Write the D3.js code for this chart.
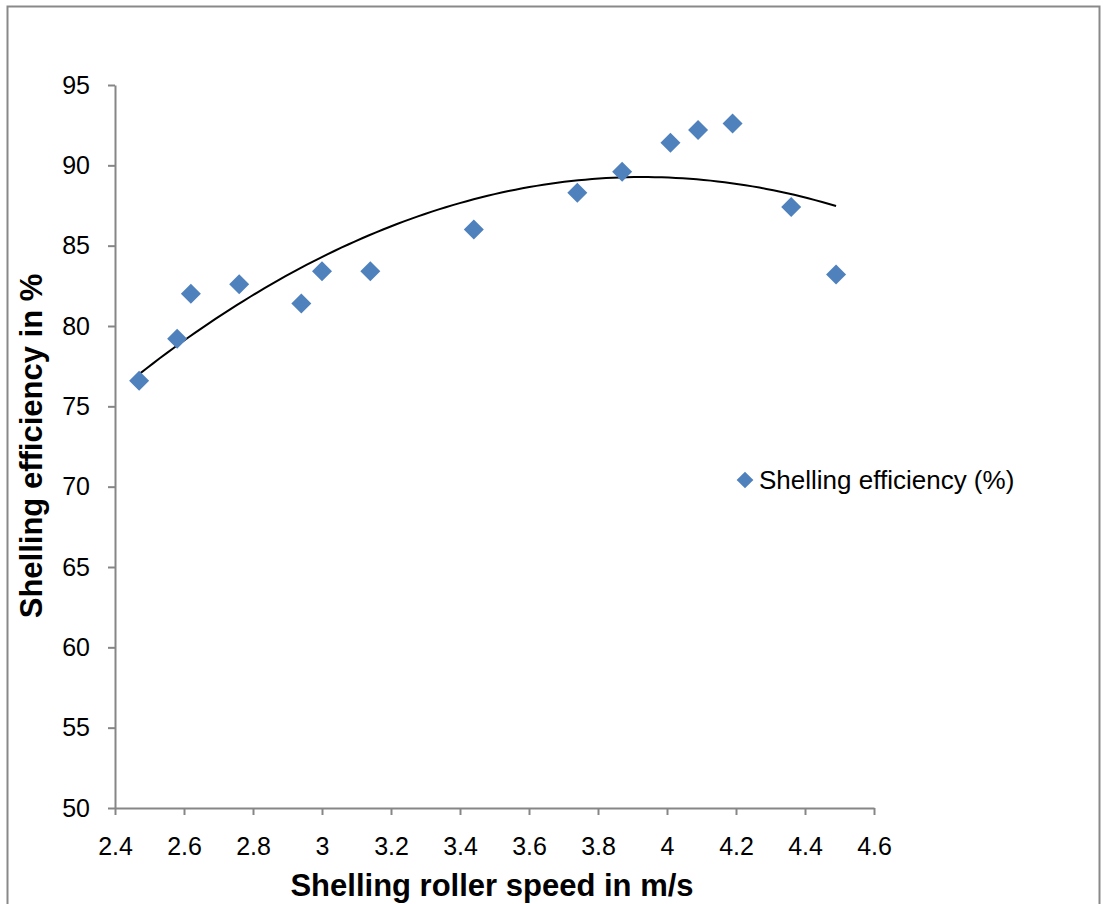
<!DOCTYPE html>
<html>
<head>
<meta charset="utf-8">
<script src="https://cdn.jsdelivr.net/npm/d3@7/dist/d3.min.js"></script>
<style>
  html, body { margin: 0; padding: 0; background: #fff; }
  svg { display: block; }
  text { font-family: "Liberation Sans", Arial, sans-serif; }
</style>
</head>
<body>
<script>
// Shelling roller speed (m/s) and measured shelling efficiency (%)
const rollerSpeed = [2.47, 2.58, 2.62, 2.76, 2.94, 3.00, 3.14, 3.44, 3.74, 3.87, 4.01, 4.09, 4.19, 4.36, 4.49];
const efficiency  = [76.6, 79.2, 82.0, 82.6, 81.4, 83.4, 83.4, 86.0, 88.3, 89.6, 91.4, 92.2, 92.6, 87.4, 83.2];
const xTicks = [2.4, 2.6, 2.8, 3, 3.2, 3.4, 3.6, 3.8, 4, 4.2, 4.4, 4.6];
const yTicks = [50, 55, 60, 65, 70, 75, 80, 85, 90, 95];
const seriesName = "Shelling efficiency (%)";
const xTitle = "Shelling roller speed in m/s";
const yTitle = "Shelling efficiency in %";

const W = 1103, H = 904;
const plot = { left: 115, right: 874, top: 85, bottom: 808 };
const FONT = "'Liberation Sans', Arial, sans-serif";

const svg = d3.select("body").append("svg").attr("width", W).attr("height", H);

// chart-area frame
svg.append("rect")
  .attr("x", 7.5).attr("y", 6.5).attr("width", 1092).attr("height", 910)
  .attr("fill", "none").attr("stroke", "#898989").attr("stroke-width", 2);

const x = d3.scaleLinear().domain([2.4, 4.6]).range([plot.left, plot.right]);
const y = d3.scaleLinear().domain([50, 95]).range([plot.bottom, plot.top]);

const axisColor = "#868686";

// x axis
const gx = svg.append("g").attr("transform", `translate(0,${plot.bottom})`)
  .call(d3.axisBottom(x).tickValues(xTicks).tickSizeInner(7).tickSizeOuter(0).tickPadding(22)
    .tickFormat(d => String(+d.toFixed(1))));
gx.select(".domain").attr("stroke", axisColor).attr("stroke-width", 2);
gx.selectAll(".tick line").attr("stroke", axisColor).attr("stroke-width", 2);
gx.selectAll(".tick text").attr("fill", "#000").attr("font-size", 25).attr("font-family", FONT);

// y axis
const gy = svg.append("g").attr("transform", `translate(${plot.left},0)`)
  .call(d3.axisLeft(y).tickValues(yTicks).tickSizeInner(7).tickSizeOuter(0).tickPadding(18));
gy.select(".domain").attr("stroke", axisColor).attr("stroke-width", 2);
gy.selectAll(".tick line").attr("stroke", axisColor).attr("stroke-width", 2);
gy.selectAll(".tick text").attr("fill", "#000").attr("font-size", 25).attr("font-family", FONT);

// second-order polynomial least-squares trend line
function quadFit(xs, ys) {
  const n = xs.length;
  const s = [0, 0, 0, 0, 0], t = [0, 0, 0];
  for (let i = 0; i < n; i++) {
    let p = 1;
    for (let k = 0; k < 5; k++) { s[k] += p; p *= xs[i]; }
    t[0] += ys[i]; t[1] += ys[i] * xs[i]; t[2] += ys[i] * xs[i] * xs[i];
  }
  const M = [[s[0], s[1], s[2], t[0]], [s[1], s[2], s[3], t[1]], [s[2], s[3], s[4], t[2]]];
  for (let c = 0; c < 3; c++) {
    for (let r = c + 1; r < 3; r++) {
      const f = M[r][c] / M[c][c];
      for (let k = c; k < 4; k++) M[r][k] -= f * M[c][k];
    }
  }
  const b = [0, 0, 0];
  for (let r = 2; r >= 0; r--) {
    let v = M[r][3];
    for (let k = r + 1; k < 3; k++) v -= M[r][k] * b[k];
    b[r] = v / M[r][r];
  }
  return b;
}
const coef = quadFit(rollerSpeed, efficiency);
const xMin = d3.min(rollerSpeed), xMax = d3.max(rollerSpeed);
const trendPts = d3.range(0, 101).map(i => {
  const xv = xMin + (xMax - xMin) * i / 100;
  return [xv, coef[0] + coef[1] * xv + coef[2] * xv * xv];
});
svg.append("path")
  .datum(trendPts)
  .attr("fill", "none").attr("stroke", "#000").attr("stroke-width", 2)
  .attr("d", d3.line().x(d => x(d[0])).y(d => y(d[1])));

// markers
const diamond = d3.symbol().type(d3.symbolSquare).size(200);
svg.append("g").selectAll("path")
  .data(rollerSpeed.map((v, i) => [v, efficiency[i]]))
  .join("path")
  .attr("d", diamond)
  .attr("transform", d => `translate(${x(d[0])},${y(d[1])}) rotate(45)`)
  .attr("fill", "#4F81BD");

// legend
const lg = svg.append("g").attr("transform", "translate(745,480)");
lg.append("path").attr("d", d3.symbol().type(d3.symbolSquare).size(140)).attr("transform", "rotate(45)")
  .attr("fill", "#4F81BD");
lg.append("text").attr("x", 14).attr("y", 9).attr("font-size", 26).attr("fill", "#000").text(seriesName);

// axis titles
svg.append("text")
  .attr("x", 492).attr("y", 896)
  .attr("text-anchor", "middle").attr("font-size", 31).attr("font-weight", "bold")
  .text(xTitle);
svg.append("text")
  .attr("transform", `translate(42,446) rotate(-90)`)
  .attr("text-anchor", "middle").attr("font-size", 31).attr("font-weight", "bold")
  .text(yTitle);
</script>
</body>
</html>
